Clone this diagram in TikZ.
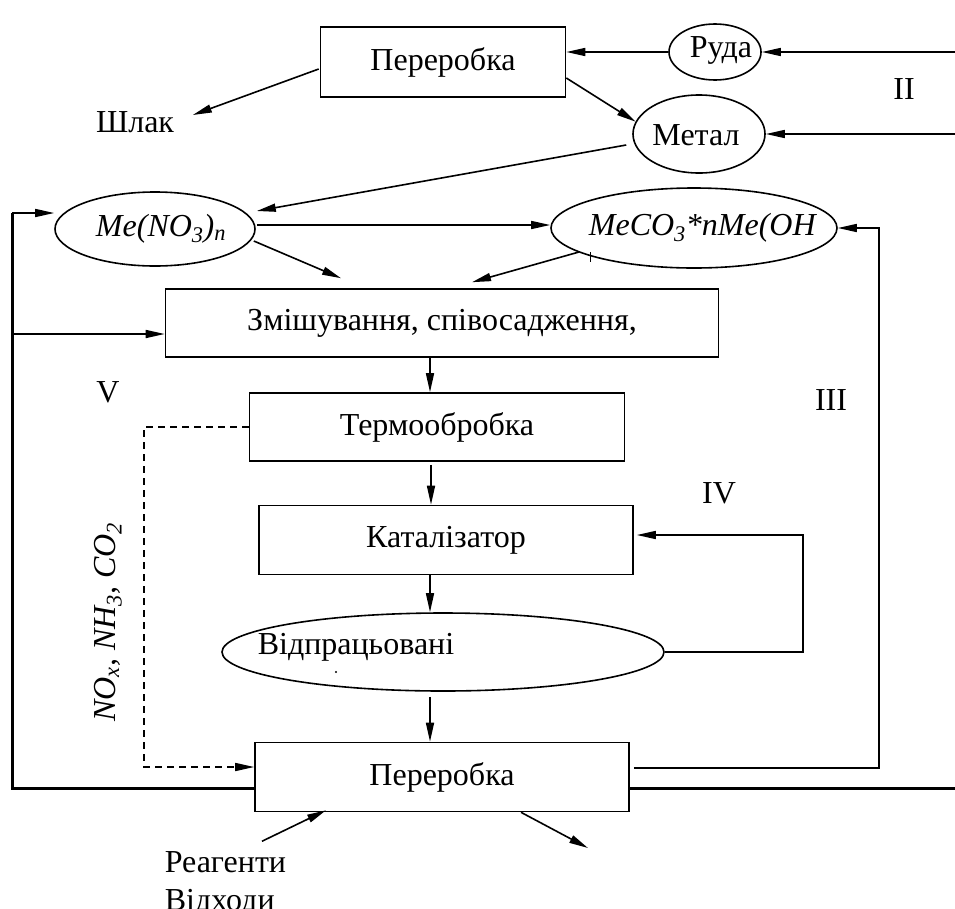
\documentclass[tikz,border=0pt]{standalone}
\usepackage{fontspec}
\setmainfont{Liberation Serif}
\usetikzlibrary{arrows.meta,shapes.geometric,calc}
\begin{document}
\begin{tikzpicture}[x=1pt,y=-1pt, line width=1.6pt,
  every node/.style={font=\fontsize{32}{37}\selectfont},
  box/.style={draw, fill=white, rectangle, inner sep=0pt},
  oval/.style={draw, fill=white, ellipse, inner sep=0pt},
  arr/.style={-{Triangle[length=19pt,width=8pt]}},
  heavy/.style={line width=3pt},
  txt/.style={inner sep=0pt},
  dsh/.style={dash pattern=on 7pt off 5pt}]
\useasboundingbox (0,0) rectangle (955,908);

% free ends and corners
\coordinate (r1) at (955,52);
\coordinate (r2) at (955,134);
\coordinate (L1) at (12,213);
\coordinate (L2) at (12,334);
\coordinate (L3) at (12,788);
\coordinate (R3) at (955,788);
\coordinate (rc) at (879,228);
\coordinate (c4) at (803,535);
\coordinate (d1) at (144,427);
\coordinate (d2) at (144,767);
\coordinate (out) at (588,848);

% heavy loop (behind the boxes)
\draw[heavy] (R3) -- (L3) -- (L1);

% nodes
\node[box, minimum width=245pt, minimum height=70pt] (p1) at (443,62) {Переробка};
\node[oval, minimum width=92pt, minimum height=56pt] (ruda) at (715,52) {};
\node[txt] (rudat) at (721,50) {Руда};
\node[oval, minimum width=132pt, minimum height=78pt] (metal) at (699,134) {};
\node[txt] (metalt) at (696,135) {Метал};
\node[txt] (shlak) at (135,122) {Шлак};
\node[oval, minimum width=200pt, minimum height=74pt] (meno) at (155,229) {};
\node[txt] (menot) at (161,229) {\textit{Me(NO\textsubscript{3})\textsubscript{n}}};
\node[oval, minimum width=286pt, minimum height=80pt] (meco) at (694,228) {};
\node[txt] (mecot) at (703,228) {\textit{MeCO\textsubscript{3}*nMe(OH}};
\node[box, minimum width=553pt, minimum height=68pt] (mix) at (442,323) {Змішування, співосадження,};
\node[box, minimum width=375pt, minimum height=68pt] (thermo) at (437,427) {Термообробка};
\node[box, minimum width=374pt, minimum height=69pt] (cat) at (446,540) {Каталізатор};
\node[oval, minimum width=442pt, minimum height=78pt] (spent) at (443,652) {};
\node[txt] (spentt) at (356,647) {Відпрацьовані};
\node[box, minimum width=374pt, minimum height=69pt] (pb) at (442,777) {Переробка};
\node[txt, anchor=base west] (reag) at (164,872) {Реагенти};
\node[txt, anchor=base west] (vidh) at (164,910) {Відходи};

\node[txt] (lII) at (904,89) {II};
\node[txt] (lIII) at (831,400) {III};
\node[txt] (lIV) at (719,493) {IV};
\node[txt] (lV) at (108,392) {V};
\node[txt, rotate=90] (gas) at (108,622) {\textit{NO\textsubscript{x}, NH\textsubscript{3}, CO\textsubscript{2}}};

% stray marks of the reference
\draw[line width=0.8pt] ($(meco.center)+(-104,24)$) -- ($(meco.center)+(-104,34)$);
\fill ($(spent.center)+(-107,20)$) circle (1.2pt);

% connectors
\draw[arr] (r1) -- (ruda.east);
\draw[arr] (ruda.west) -- (ruda.west -| p1.east);
\draw[arr] ($(p1.west)+(-1,7)$) -- ($(shlak.east)+(18,-7)$);
\draw[arr] ($(p1.east)+(0,16)$) -- (metal.169);
\draw[arr] (r2) -- (metal.east);
\draw[arr] ($(metal.west)+(-6,11)$) -- ($(meno.east)+(1,-18)$);
\draw[arr] ($(meno.east)+(1,-4)$) coordinate (a1) -- (a1 -| meco.west);
\draw[arr] ($(meno.east)+(-2,12)$) -- ($(mix.north)+(-101,-10)$);
\draw[arr] ($(meco.center)+(-115,24)$) -- ($(mix.north)+(30,-6)$);
\draw[arr] (L1) -- (L1 -| meno.west);
\draw[arr] (L2) -- (L2 -| mix.west);
\draw[arr] ($(pb.east)+(4,-9)$) -| (rc) -- (meco.east);
\draw[arr] ($(mix.south)+(-12,0)$) coordinate (a2) -- (a2 |- thermo.north);
\draw[arr] ($(thermo.south)+(-6,3)$) coordinate (a3) -- (a3 |- cat.north);
\draw[arr] ($(cat.south)+(-16,0)$) coordinate (a4) -- (a4 |- spent.north);
\draw[arr] ($(spent.south)+(-13,5)$) coordinate (a5) -- (a5 |- pb.north);
\draw[arr] (spent.east) -| (c4) -- ($(c4 -| cat.east)+(3,0)$);
\draw[arr, dsh] (thermo.west) -- (d1) -- (d2) -- (d2 -| pb.west);
\draw[arr] ($(reag.north west)+(98,-9)$) -- ($(pb.south)+(-116,-2)$);
\draw[arr] ($(pb.south)+(79,0)$) -- (out);
\end{tikzpicture}
\end{document}
